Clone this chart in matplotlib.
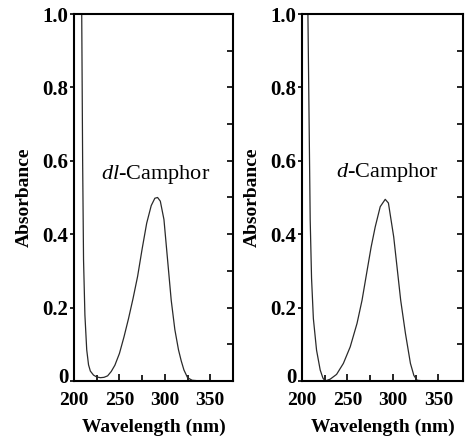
import matplotlib
matplotlib.use("Agg")
import matplotlib.pyplot as plt
import matplotlib.transforms as mtransforms

plt.rcParams['font.family'] = ['Liberation Serif', 'DejaVu Serif']
plt.rcParams['mathtext.fontset'] = 'custom'
plt.rcParams['mathtext.it'] = 'Liberation Serif:italic'
plt.rcParams['mathtext.rm'] = 'Liberation Serif'

# UV absorption spectra of camphor
wl_dl = [200, 206, 208.5, 209.5, 210.5, 212, 214, 216, 218, 221.5, 225, 229, 233,
         237, 241, 245, 250, 255, 260, 265, 270, 275, 280, 285, 289, 292, 295,
         299, 303, 307, 311, 315, 318, 321, 325, 330, 340, 375]
abs_dl = [1.3, 1.15, 1.0, 0.6, 0.33, 0.18, 0.085, 0.044, 0.027, 0.016, 0.011, 0.009, 0.010,
          0.014, 0.026, 0.043, 0.075, 0.12, 0.17, 0.225, 0.285, 0.36, 0.43, 0.478, 0.498, 0.50, 0.49,
          0.44, 0.33, 0.22, 0.14, 0.085, 0.055, 0.03, 0.009, 0.002, 0.0, 0.0]

wl_d = [200, 205, 206.5, 209, 210.5, 212.5, 216, 220, 223, 225.5, 231, 238, 245.5,
        253, 260.5, 266, 271.5, 276, 280.5, 286, 291.5, 295, 300.8, 304.5, 308.5,
        313.7, 319.2, 323, 326.6, 335, 377]
abs_d = [1.3, 1.1, 1.0, 0.44, 0.28, 0.17, 0.084, 0.03, 0.008, 0.0, 0.005, 0.018, 0.048,
         0.093, 0.157, 0.22, 0.30, 0.365, 0.42, 0.475, 0.495, 0.485, 0.393, 0.31, 0.22,
         0.13, 0.048, 0.015, 0.002, 0.0, 0.0]

x_ticks = [200, 250, 300, 350]
x_minor = [225, 275, 325]
y_ticks = [0, 0.2, 0.4, 0.6, 0.8, 1.0]
y_labels = ['0', '0.2', '0.4', '0.6', '0.8', '1.0']
y_right = [0.1 * i for i in range(1, 10)]

panels = [
    (wl_dl, abs_dl, r'$\mathit{dl}$', (290, 0.564), [74/467, 55/436, 159/467, 367/436], 375),
    (wl_d, abs_d, r'$\mathit{d}$', (293.5, 0.568), [302/467, 55/436, 161/467, 367/436], 377),
]

fig = plt.figure(figsize=(4.67, 4.36), dpi=100)

for wl, ab, prefix, pos, rect, xmax in panels:
    ax = fig.add_axes(rect)
    ax.plot(wl, ab, color='#2a2a2a', lw=0.9)
    ax.set_xlim(200, xmax)
    ax.set_ylim(0, 1.0)
    for s in ax.spines.values():
        s.set_linewidth(1.5)
    ax.set_xticks(x_ticks)
    ax.set_xticks(x_minor, minor=True)
    ax.set_yticks(y_ticks)
    ax.set_yticklabels(y_labels)
    ax.tick_params(axis='x', which='major', direction='in', length=5, width=1.2,
                   labelsize=14, pad=8)
    ax.tick_params(axis='x', which='minor', direction='in', length=4, width=1.2)
    ax.tick_params(axis='y', which='major', direction='out', length=3, width=1.2,
                   labelsize=15, pad=1)
    for lab in ax.get_xticklabels() + ax.get_yticklabels():
        lab.set_fontweight('bold')
    # lift the zero label slightly so it clears the wavelength labels
    zero = ax.get_yticklabels()[0]
    zero.set_transform(zero.get_transform() +
                       mtransforms.ScaledTranslation(0, 4 / 72, fig.dpi_scale_trans))
    ax.set_xlabel('Wavelength (nm)', fontsize=14, fontweight='bold', labelpad=7)
    ax.set_ylabel('Absorbance', fontsize=14, fontweight='bold', labelpad=7)

    axr = ax.twinx()
    axr.set_ylim(0, 1.0)
    axr.set_yticks(y_right)
    axr.tick_params(axis='y', direction='in', length=4, width=1.2, labelright=False)
    for s in axr.spines.values():
        s.set_visible(False)

    ax.text(pos[0], pos[1], prefix + '-Camphor', fontsize=16, ha='center', va='center')

fig.savefig('out.png', dpi=100)
